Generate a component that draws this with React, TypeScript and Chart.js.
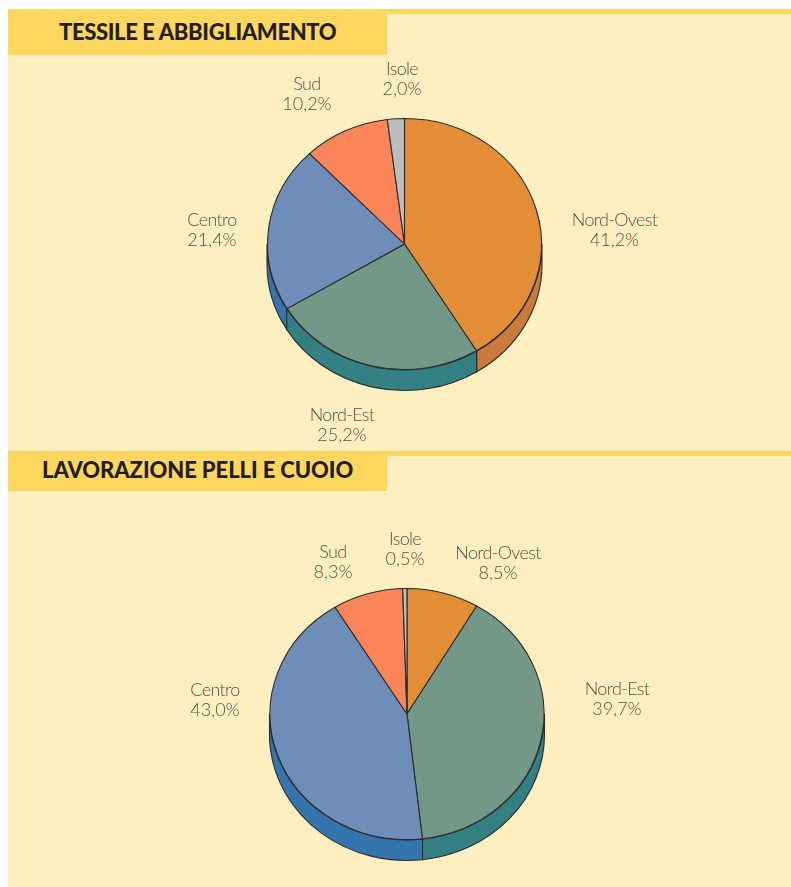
import React, { useEffect, useRef } from "react";
import { Chart, registerables } from "chart.js";

Chart.register(...registerables);

const categories = ["Nord-Ovest", "Nord-Est", "Centro", "Sud", "Isole"];
const tessileValues = [41.2, 25.2, 21.4, 10.2, 2.0];
const pelliValues = [8.5, 39.7, 43.0, 8.3, 0.5];
const tessileTitle = "TESSILE E ABBIGLIAMENTO";
const pelliTitle = "LAVORAZIONE PELLI E CUOIO";

const topColors = ["#E38E37", "#739887", "#6F8DB9", "#F98558", "#BDBDBD"];
const sideColors = ["#CA7B3B", "#348183", "#3575AF", "#D9704A", "#8F8F8F"];

const tessileLabelPos = [
  [614.5, 209],
  [342, 404],
  [212, 209],
  [307, 73],
  [402, 58],
];
const pelliLabelPos = [
  [498, 542],
  [617, 678],
  [215, 679],
  [333, 541],
  [405, 528],
];

const RX = 137.5;
const RY = 126;
const SY = RY / RX;
const DEPTH = 20.5;
const EDGE = "#2b2b2b";

const pie3d = {
  id: "pie3d",
  beforeDatasetDraw(chart: any) {
    const ctx = chart.ctx;
    const arcs = chart.getDatasetMeta(0).data;
    arcs.forEach((arc: any, i: number) => {
      const { x, y, startAngle, endAngle } = arc.getProps(["x", "y", "startAngle", "endAngle"]);
      const r = RX;
      // the side wall is only seen on the lower half of the ellipse: angles 0..PI
      const ranges: [number, number][] = [
        [Math.max(startAngle, 0), Math.min(endAngle, Math.PI)],
        [Math.max(startAngle, 2 * Math.PI), Math.min(endAngle, 3 * Math.PI)],
      ];
      ranges.forEach(([a, b]) => {
        if (b <= a) return;
        ctx.save();
        ctx.beginPath();
        ctx.ellipse(x, y + DEPTH, r, RY, 0, a, b, false);
        ctx.ellipse(x, y, r, RY, 0, b, a, true);
        ctx.closePath();
        ctx.fillStyle = sideColors[i];
        ctx.fill();
        ctx.lineWidth = 1.1;
        ctx.strokeStyle = EDGE;
        ctx.stroke();
        ctx.restore();
      });
    });
    const cy = arcs[0].y;
    ctx.save();
    ctx.translate(0, cy);
    ctx.scale(1, SY);
    ctx.translate(0, -cy);
  },
  afterDatasetDraw(chart: any) {
    chart.ctx.restore();
  },
};

function Pie({ values, top, height, cx, cy }: { values: number[]; top: number; height: number; cx: number; cy: number }) {
  const ref = useRef<HTMLCanvasElement>(null);
  useEffect(() => {
    const rel = cy - top;
    const chart = new Chart(ref.current as HTMLCanvasElement, {
      type: "pie",
      data: {
        labels: categories,
        datasets: [
          {
            data: values,
            backgroundColor: topColors,
            borderColor: EDGE,
            borderWidth: 1.1,
            borderAlign: "center",
            clip: false,
          } as any,
        ],
      },
      options: {
        animation: false,
        responsive: false,
        events: [],
        layout: {
          padding: {
            left: cx - RX,
            right: 791 - cx - RX,
            top: rel - RX,
            bottom: height - rel - RX,
          },
        },
        plugins: { legend: { display: false }, tooltip: { enabled: false } },
      },
      plugins: [pie3d],
    });
    return () => chart.destroy();
  }, []);
  return (
    <canvas
      ref={ref}
      width={791}
      height={height}
      style={{ position: "absolute", left: 0, top, width: 791, height, display: "block" }}
    />
  );
}

const labelFont = "Lato, 'Open Sans', sans-serif";

function Labels({ values, pos }: { values: number[]; pos: number[][] }) {
  return (
    <>
      {categories.map((c, i) => (
        <div
          key={c}
          style={{
            position: "absolute",
            left: pos[i][0] - 80,
            top: pos[i][1],
            width: 160,
            textAlign: "center",
            fontFamily: labelFont,
            fontWeight: 300,
            fontSize: 18,
            lineHeight: "20px",
            color: "#55534a",
          }}
        >
          <div style={{ letterSpacing: -0.65 }}>{c}</div>
          <div>{values[i].toFixed(1).replace(".", ",")}%</div>
        </div>
      ))}
    </>
  );
}

function Header({
  text,
  top,
  left,
  spacing,
  boxHeight,
  textCenter,
}: {
  text: string;
  top: number;
  left: number;
  spacing: number;
  boxHeight: number;
  textCenter: number;
}) {
  return (
    <>
      <div style={{ position: "absolute", left: 8, top: top - 5, width: 783, height: 5, background: "#FFD75E" }} />
      <div
        style={{
          position: "absolute",
          left: 8,
          top,
          width: 379,
          height: boxHeight,
          background: "#FFD75E",
        }}
      />
      <div
        style={{
          position: "absolute",
          left,
          top: textCenter - 18,
          height: 36,
          lineHeight: "36px",
          whiteSpace: "nowrap",
          fontFamily: "Lato, Roboto, sans-serif",
          fontWeight: 900,
          fontSize: 22,
          letterSpacing: spacing,
          color: "#231f20",
        }}
      >
        {text}
      </div>
    </>
  );
}

export default function App() {
  return (
    <div style={{ position: "absolute", left: 0, top: 0, width: 791, height: 887, overflow: "hidden", background: "#fff" }}>
      <div style={{ position: "absolute", left: 8, top: 9, width: 783, height: 878, background: "#FDEFBF" }} />
      <Header text={tessileTitle} top={14} left={59} spacing={-0.35} boxHeight={41} textCenter={32} />
      <Header text={pelliTitle} top={456} left={42} spacing={-0.08} boxHeight={35} textCenter={470} />
      <Pie values={tessileValues} top={55} height={396} cx={404.5} cy={244} />
      <Pie values={pelliValues} top={491} height={396} cx={407} cy={714} />
      <Labels values={tessileValues} pos={tessileLabelPos} />
      <Labels values={pelliValues} pos={pelliLabelPos} />
    </div>
  );
}
